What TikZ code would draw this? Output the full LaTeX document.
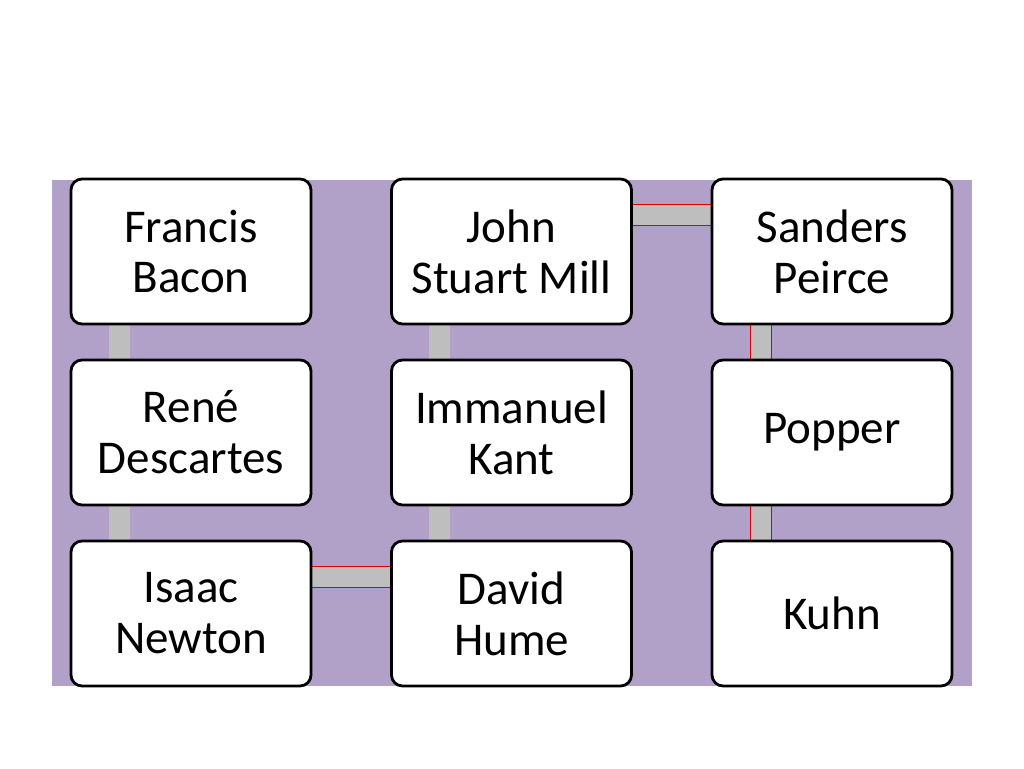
\documentclass[tikz,border=0pt]{standalone}
\usepackage{fontspec}
\setmainfont{Carlito}
\definecolor{bgp}{HTML}{B1A1C9}
\definecolor{barg}{HTML}{BEBEBE}
\begin{document}
\begin{tikzpicture}[x=1pt,y=-1pt,
  box/.style={draw=black,line width=2.8pt,fill=white,rounded corners=11pt,minimum width=240pt,minimum height=145pt,align=center,font=\fontsize{47}{51}\selectfont,inner sep=0pt},
  grey/.style={fill=barg,draw=none},
  redl/.style={draw=red!85!black,line width=0.8pt}]
\useasboundingbox (0,0) rectangle (1024,768);
\fill[white] (0,0) rectangle (1024,768);
\fill[bgp] (52,180) rectangle (972,686);
% bars
\fill[grey] (109,320) rectangle (130,365);
\fill[grey] (109,500) rectangle (130,545);
\fill[grey] (429,320) rectangle (450,365);
\fill[grey] (429,500) rectangle (450,545);
\fill[grey] (308,566) rectangle (395,587);
\draw[redl] (308,566) -- (395,566) (308,587) -- (395,587);
\fill[grey] (628,204) rectangle (715,225);
\draw[redl] (628,204) -- (715,204) (628,225) -- (715,225);
\fill[grey] (750,320) rectangle (771,365);
\draw[redl] (750,320) -- (750,365) (771,320) -- (771,365);
\fill[grey] (750,500) rectangle (771,545);
\draw[redl] (750,500) -- (750,545) (771,500) -- (771,545);
\node[box] (a) at (191,251.5) {Francis\\Bacon};
\node[box] (b) at (191,432.5) {René\\Descartes};
\node[box] (c) at (191,613.5) {Isaac\\Newton};
\node[box] (d) at (511.5,613.5) {David\\Hume};
\node[box] (e) at (511.5,432.5) {Immanuel\\Kant};
\node[box] (f) at (511.5,251.5) {John\\Stuart Mill};
\node[box] (g) at (832,251.5) {Sanders\\Peirce};
\node[box] (h) at (832,432.5) {Popper};
\node[box] (i) at (832,613.5) {Kuhn};
\end{tikzpicture}
\end{document}
